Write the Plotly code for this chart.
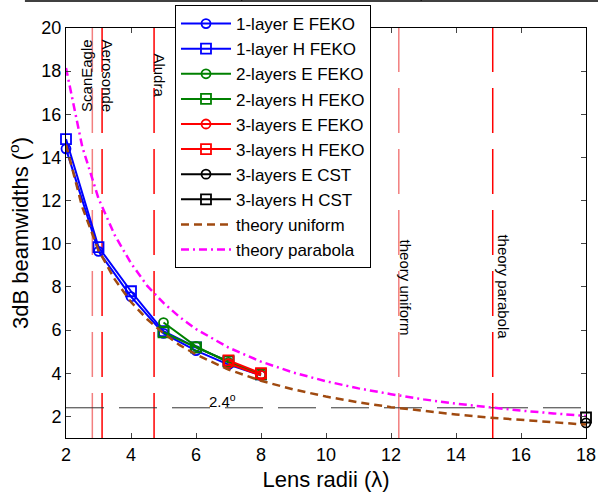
import plotly.graph_objects as go

# ---------------- data ----------------
x_1layer = [2, 3, 4, 5, 6, 7, 8]
e_1layer = [14.4, 9.65, 7.55, 5.85, 5.05, 4.4, 3.9]
h_1layer = [14.85, 9.85, 7.8, 5.95, 5.2, 4.55, 3.95]

x_2layers = [5, 6, 7, 8]
e_2layers = [6.35, 5.25, 4.5, 3.95]
h_2layers = [5.9, 5.2, 4.55, 3.95]

x_3layers = [7, 8]
e_3layers = [4.45, 3.9]
h_3layers = [4.6, 4.0]

x_cst = [18]
e_cst = [1.7]
h_cst = [1.95]

x_theory = [2, 2.5, 3, 3.5, 4, 4.5, 5, 5.5, 6, 7, 8, 9, 10, 11, 12, 13, 14, 15, 16, 17, 18]
theory_uniform = [14.6, 11.7, 9.7, 8.35, 7.3, 6.5, 5.85, 5.3, 4.87, 4.17, 3.65, 3.25,
                  2.92, 2.65, 2.43, 2.25, 2.09, 1.95, 1.83, 1.72, 1.62]
theory_parabola = [18.15, 14.5, 12.1, 10.4, 9.1, 8.05, 7.26, 6.6, 6.05, 5.19, 4.54, 4.03,
                   3.63, 3.3, 3.03, 2.79, 2.59, 2.42, 2.27, 2.14, 2.02]

# reference markers (vertical lines) and labels
vline_x = [2.81, 3.11, 4.71, 12.24, 15.13]
vline_colors = ["#f27f7f", "#ff0000", "#ff0000", "#f27f7f", "#ff0000"]
vline_labels = ["ScanEagle", "Aerosonde", "Aludra", "theory uniform", "theory parabola"]
label_x = [2.63, 3.29, 4.88, 12.43, 15.45]
label_y = [17.8, 17.75, 17.82, 7.97, 8.02]
label_angle = [-90, 90, 90, 90, 90]
hline_y = 2.4

FONT = "Liberation Sans, Arial, sans-serif"

fig = go.Figure()

def add_series(x, y, name, color, symbol, size):
    fig.add_trace(go.Scatter(
        x=x, y=y, name=name, mode="lines+markers", cliponaxis=False,
        line=dict(color=color, width=2),
        marker=dict(symbol=symbol, size=size, color=color, line=dict(color=color, width=1.8)),
    ))

add_series(x_1layer, e_1layer, "1-layer E FEKO", "#0000ff", "circle-open", 9)
add_series(x_1layer, h_1layer, "1-layer H FEKO", "#0000ff", "square-open", 10)
add_series(x_2layers, e_2layers, "2-layers E FEKO", "#008000", "circle-open", 9)
add_series(x_2layers, h_2layers, "2-layers H FEKO", "#008000", "square-open", 10)
add_series(x_3layers, e_3layers, "3-layers E FEKO", "#ff0000", "circle-open", 9)
add_series(x_3layers, h_3layers, "3-layers H FEKO", "#ff0000", "square-open", 10)
add_series(x_cst, e_cst, "3-layers E CST", "#000000", "circle-open", 9)
add_series(x_cst, h_cst, "3-layers H CST", "#000000", "square-open", 10)

fig.add_trace(go.Scatter(x=x_theory, y=theory_uniform, name="theory uniform", mode="lines",
                         line=dict(color="#a04a10", width=2.5, dash="8px,5px")))
fig.add_trace(go.Scatter(x=x_theory, y=theory_parabola, name="theory parabola", mode="lines",
                         line=dict(color="#ff00ff", width=2.5, dash="8px,4px,2px,4px")))

shapes = []
for xv, c in zip(vline_x, vline_colors):
    shapes.append(dict(type="line", xref="x", yref="y", x0=xv, x1=xv, y0=1, y1=20,
                       line=dict(color=c, width=1.5, dash="45px,16px"), layer="below"))
shapes.append(dict(type="line", xref="x", yref="y", x0=2, x1=18, y0=hline_y, y1=hline_y,
                   line=dict(color="#333333", width=1, dash="38px,15px"), layer="below"))
# cropped border from the page above the figure
shapes.append(dict(type="line", xref="paper", yref="paper", x0=-0.079, x1=1.03, y0=1.066, y1=1.066,
                   line=dict(color="black", width=1.5)))
for px in [0.338, 0.683]:
    shapes.append(dict(type="line", xref="paper", yref="paper", x0=px, x1=px, y0=1.066, y1=1.075,
                       line=dict(color="black", width=1)))

annotations = []
for t, ax, ay, ang in zip(vline_labels, label_x, label_y, label_angle):
    annotations.append(dict(x=ax, y=ay, xref="x", yref="y", text=t, textangle=ang,
                            showarrow=False, xanchor="center", yanchor="middle",
                            font=dict(family=FONT, size=15, color="black")))
annotations.append(dict(x=6.83, y=2.73, xref="x", yref="y", text="2.4<sup>o</sup>",
                        showarrow=False, xanchor="center", yanchor="middle",
                        font=dict(family=FONT, size=15, color="black")))

fig.update_layout(
    width=598, height=492,
    margin=dict(l=66, r=12, t=28, b=54, autoexpand=False),
    plot_bgcolor="white", paper_bgcolor="white",
    font=dict(family=FONT, size=18, color="black"),
    shapes=shapes, annotations=annotations,
    legend=dict(x=0.2096, y=1.056, xanchor="left", yanchor="top",
                bgcolor="white", bordercolor="black", borderwidth=1,
                font=dict(family=FONT, size=17), tracegroupgap=0, maxheight=480,
                itemwidth=50),
    xaxis=dict(range=[2, 18], tickvals=[2, 4, 6, 8, 10, 12, 14, 16, 18], automargin=False,
               ticks="inside", ticklen=5, showline=True, linecolor="black", linewidth=1,
               mirror="ticks", showgrid=False, zeroline=False,
               tickfont=dict(size=18), title=dict(text="Lens radii (λ)", font=dict(size=22), standoff=10)),
    yaxis=dict(range=[1, 20], tickvals=[2, 4, 6, 8, 10, 12, 14, 16, 18, 20], automargin=False,
               ticks="inside", ticklen=5, showline=True, linecolor="black", linewidth=1,
               mirror="ticks", showgrid=False, zeroline=False,
               tickfont=dict(size=18), title=dict(text="3dB beamwidths (<sup>o</sup>)", font=dict(size=22), standoff=6)),
)

fig.write_html("out.html")
